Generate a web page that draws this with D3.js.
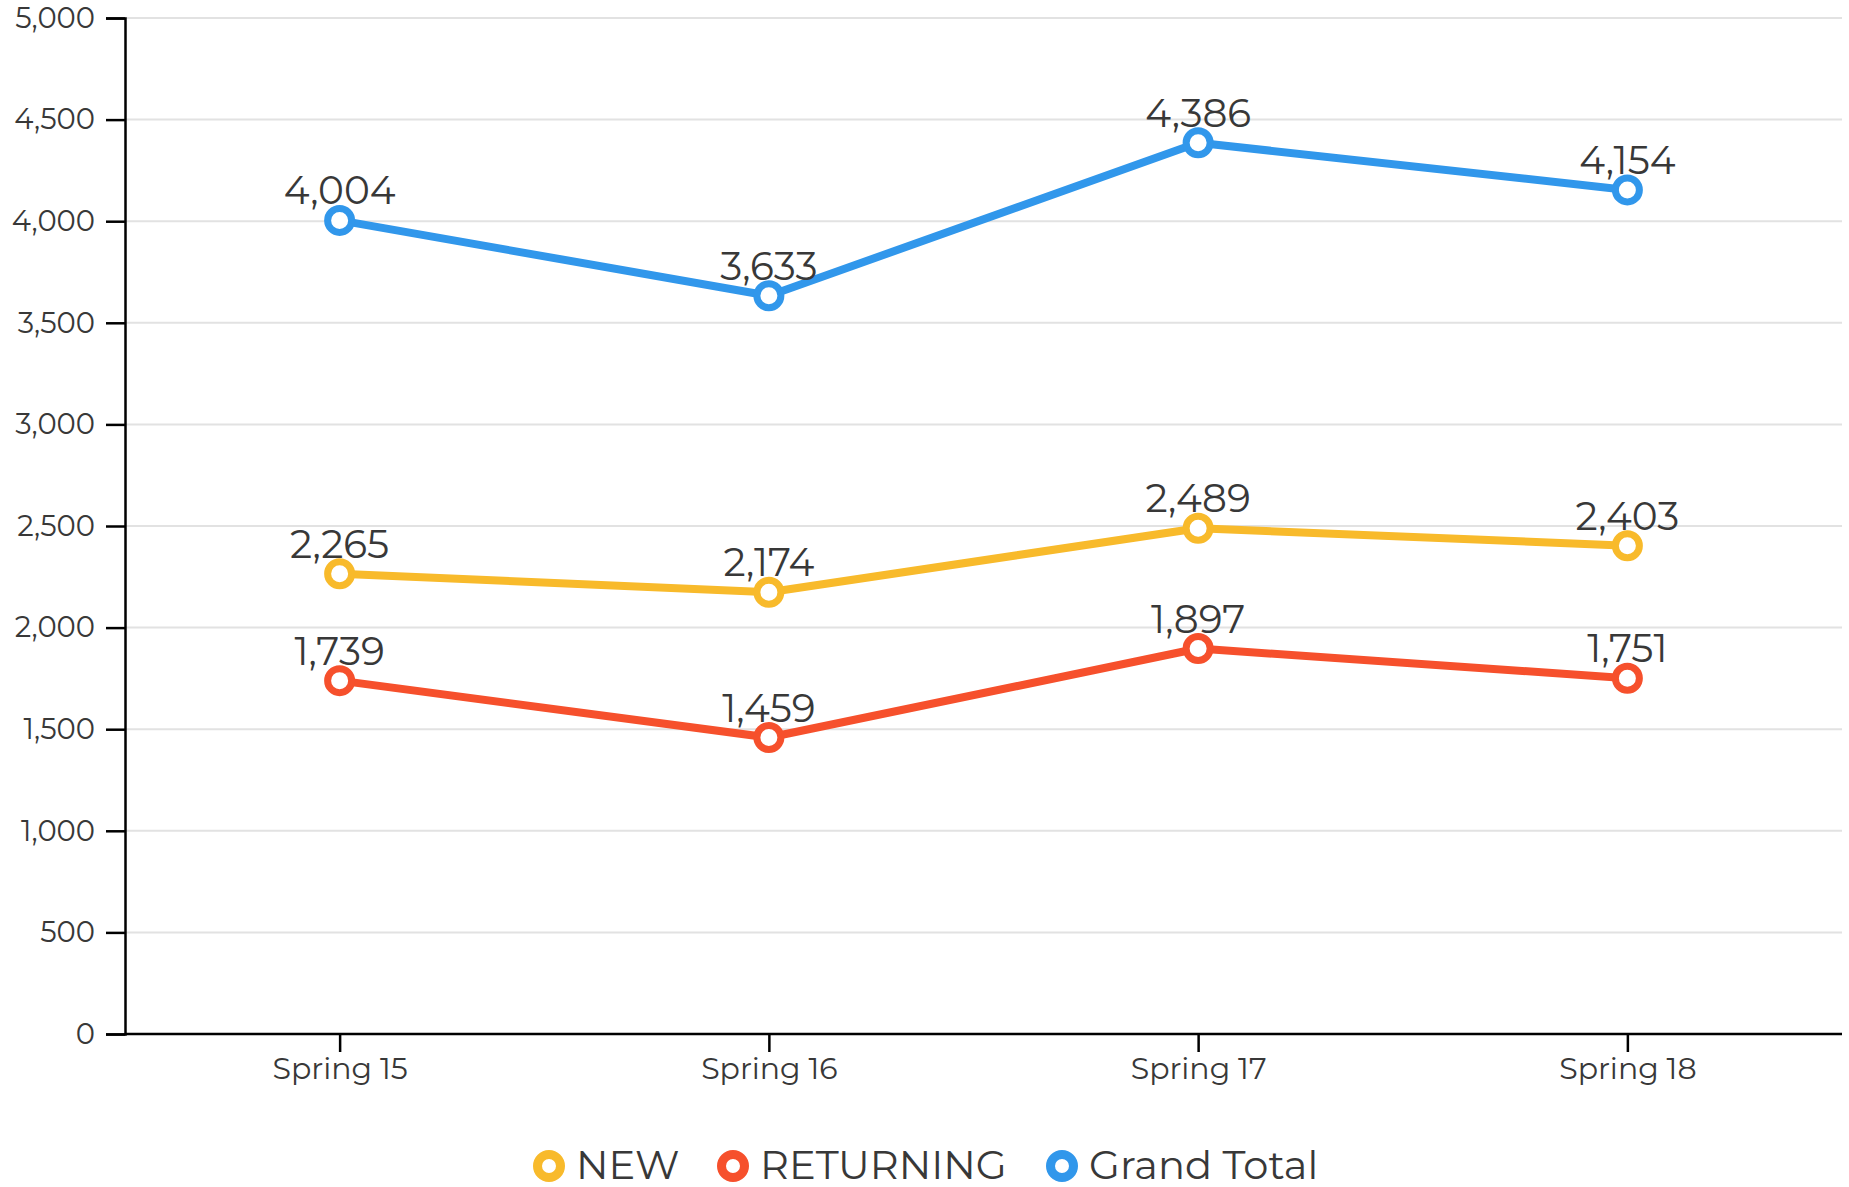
<!DOCTYPE html>
<html>
<head>
<meta charset="utf-8">
<script src="https://cdn.jsdelivr.net/npm/d3@7"></script>
<style>
  body { margin: 0; background: #fff; }
  text { font-family: Montserrat, "DejaVu Sans", sans-serif; fill: #383838; }
</style>
</head>
<body>
<div id="chart"></div>
<script>
// Enrollment by term: new, returning and grand total

const terms = ["Spring 15", "Spring 16", "Spring 17", "Spring 18"];
const newVals = [2265, 2174, 2489, 2403];
const returningVals = [1739, 1459, 1897, 1751];
const totalVals = [4004, 3633, 4386, 4154];
const yTicks = [0, 500, 1000, 1500, 2000, 2500, 3000, 3500, 4000, 4500, 5000];

const series = [
  { name: "NEW", values: newVals, color: "#F8BA2B" },
  { name: "RETURNING", values: returningVals, color: "#F6502C" },
  { name: "Grand Total", values: totalVals, color: "#3197EB" }
];

const width = 1849, height = 1187;
const margin = { top: 18, right: 7, bottom: 153, left: 125 };
const fmt = d3.format(",");

const svg = d3.select("#chart")
  .append("svg")
  .attr("width", width)
  .attr("height", height);

const x = d3.scalePoint()
  .domain(terms)
  .range([margin.left, width - margin.right])
  .padding(0.5);

const y = d3.scaleLinear()
  .domain([0, 5000])
  .range([height - margin.bottom, margin.top]);

// gridlines
svg.append("g")
  .selectAll("line")
  .data(yTicks.filter(d => d > 0))
  .join("line")
    .attr("x1", margin.left)
    .attr("x2", width - margin.right)
    .attr("y1", d => y(d))
    .attr("y2", d => y(d))
    .attr("stroke", "#e2e2e2")
    .attr("stroke-width", 2);

// y axis
const yAxis = svg.append("g")
  .attr("transform", `translate(${margin.left},0)`)
  .call(d3.axisLeft(y).tickValues(yTicks).tickFormat(fmt).tickSize(19).tickPadding(11));
yAxis.select(".domain").attr("stroke", "#000").attr("stroke-width", 2.5);
yAxis.selectAll(".tick line").attr("stroke", "#000").attr("stroke-width", 2.5);
yAxis.selectAll(".tick text")
  .attr("font-size", 29)
  .style("font-family", "Montserrat, 'DejaVu Sans', sans-serif")
  .attr("fill", "#383838");

// x axis
const xAxis = svg.append("g")
  .attr("transform", `translate(0,${height - margin.bottom})`)
  .call(d3.axisBottom(x).tickSize(18).tickSizeOuter(0).tickPadding(6));
xAxis.select(".domain").attr("stroke", "#000").attr("stroke-width", 2.5)
  .attr("d", `M${margin.left},0H${width - margin.right}`);
xAxis.selectAll(".tick line").attr("stroke", "#000").attr("stroke-width", 2.5);
xAxis.selectAll(".tick text")
  .attr("font-size", 30)
  .style("font-family", "Montserrat, 'DejaVu Sans', sans-serif")
  .attr("fill", "#383838");

const line = d3.line()
  .x((d, i) => x(terms[i]))
  .y(d => y(d));

const g = svg.append("g")
  .selectAll("g")
  .data(series)
  .join("g");

g.append("path")
  .attr("fill", "none")
  .attr("stroke", d => d.color)
  .attr("stroke-width", 8)
  .attr("stroke-linejoin", "round")
  .attr("d", d => line(d.values));

g.selectAll("circle")
  .data(d => d.values.map((v, i) => ({ v, i, color: d.color })))
  .join("circle")
    .attr("cx", d => x(terms[d.i]))
    .attr("cy", d => y(d.v))
    .attr("r", 12)
    .attr("fill", "#fff")
    .attr("stroke", d => d.color)
    .attr("stroke-width", 7);

g.selectAll("text.val")
  .data(d => d.values.map((v, i) => ({ v, i })))
  .join("text")
    .attr("class", "val")
    .attr("x", d => x(terms[d.i]))
    .attr("y", d => y(d.v) - 16)
    .attr("text-anchor", "middle")
    .attr("font-size", 39)
    .text(d => fmt(d.v));

// legend
const legendX = [549, 733, 1062];
const legend = svg.append("g")
  .selectAll("g")
  .data(series)
  .join("g")
    .attr("transform", (d, i) => `translate(${legendX[i]},1166)`);

legend.append("circle")
  .attr("r", 11.5)
  .attr("fill", "#fff")
  .attr("stroke", d => d.color)
  .attr("stroke-width", 9);

legend.append("text")
  .attr("x", 27)
  .attr("y", 13)
  .attr("font-size", 40)
  .text(d => d.name);
</script>
</body>
</html>
